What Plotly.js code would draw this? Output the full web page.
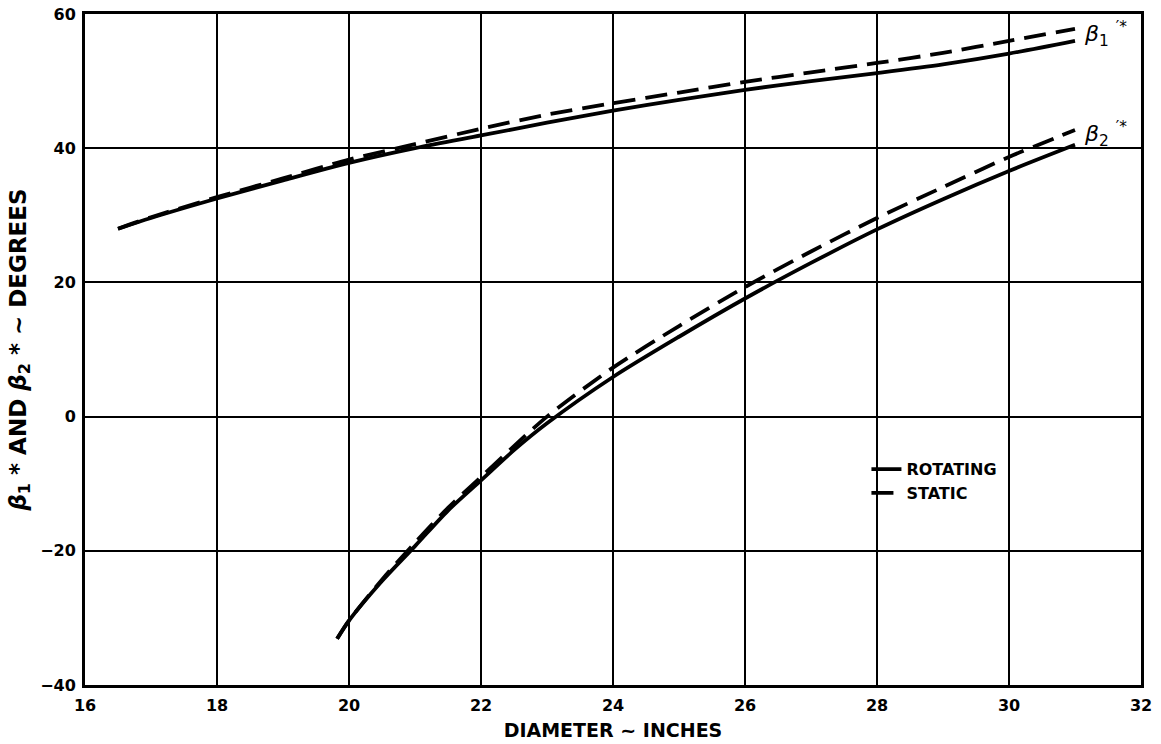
<!DOCTYPE html>
<html>
<head>
<meta charset="utf-8">
<script src="https://cdn.plot.ly/plotly-3.0.1.min.js"></script>
<style>html,body{margin:0;padding:0;background:#fff;}#chart{width:1161px;height:744px;}</style>
</head>
<body>
<div id="chart"></div>
<script>
// Upper curves (beta1*)
var beta1X = [16.5, 17, 18, 19, 20, 21, 22, 23, 24, 25, 26, 27, 28, 29, 30, 31];
var beta1Rotating = [28, 29.6, 32.5, 35.2, 37.8, 40.0, 41.9, 43.8, 45.6, 47.2, 48.7, 50.0, 51.2, 52.5, 54.1, 56.0];
var beta1Static   = [28, 29.7, 32.7, 35.5, 38.3, 40.6, 42.9, 45.0, 46.7, 48.3, 49.9, 51.3, 52.7, 54.2, 56.0, 57.8];
// Lower curves (beta2*)
var beta2X = [19.82, 20, 20.5, 21, 21.5, 22, 22.5, 23, 24, 25, 26, 27, 28, 29, 30, 31];
var beta2Rotating = [-33.1, -30.4, -24.5, -19.3, -14.0, -9.5, -5.0, -1.0, 5.9, 11.9, 17.6, 22.9, 27.9, 32.4, 36.6, 40.5];
var beta2Static   = [-33.1, -30.4, -24.3, -18.8, -13.6, -9.0, -4.4, 0.0, 7.3, 13.5, 19.3, 24.6, 29.6, 34.2, 38.7, 42.7];

var xTicks = [16, 18, 20, 22, 24, 26, 28, 30, 32];
var yTicks = [-40, -20, 0, 20, 40, 60];
var yTickText = ['\u221240', '\u221220', '0', '20', '40', '60'];

var curveLabels = [
  {x: 31.1, y: 57.0, text: '<i>\u03b2</i><sub>1</sub> <sup>\u2032*</sup>'},
  {x: 31.1, y: 42.1, text: '<i>\u03b2</i><sub>2</sub> <sup>\u2032*</sup>'}
];

var solid = {color: '#000', width: 3.8, shape: 'spline', smoothing: 0.8};
var dashed = {color: '#000', width: 3.8, dash: '22px,10px', shape: 'spline', smoothing: 0.8};

var traces = [
  {x: beta1X, y: beta1Rotating, mode: 'lines', name: 'ROTATING', line: solid, legendgroup: 'r'},
  {x: beta1X, y: beta1Static, mode: 'lines', name: 'STATIC', line: dashed, legendgroup: 's'},
  {x: beta2X, y: beta2Rotating, mode: 'lines', name: 'ROTATING', line: solid, legendgroup: 'r', showlegend: false},
  {x: beta2X, y: beta2Static, mode: 'lines', name: 'STATIC', line: dashed, legendgroup: 's', showlegend: false}
];

var fontFam = 'DejaVu Sans, Arial, sans-serif';

var layout = {
  width: 1161, height: 744,
  margin: {l: 85, r: 20, t: 14, b: 59},
  paper_bgcolor: '#fff', plot_bgcolor: '#fff',
  showlegend: true,
  legend: {x: 0.74, y: 0.347, xanchor: 'left', yanchor: 'top', bgcolor: 'rgba(0,0,0,0)',
           font: {family: fontFam, size: 16, color: '#000', weight: 'bold'}, tracegroupgap: 0},
  xaxis: {
    range: [16, 32], tickvals: xTicks, ticktext: xTicks.map(String),
    showgrid: true, gridcolor: '#000', gridwidth: 2,
    zeroline: false, showline: true, linecolor: '#000', linewidth: 3, mirror: true,
    ticks: '', ticklabelstandoff: 4,
    tickfont: {family: fontFam, size: 16, color: '#000', weight: 'bold'},
    title: {text: 'DIAMETER ~ INCHES', standoff: 10,
            font: {family: fontFam, size: 19, color: '#000', weight: 'bold'}}
  },
  yaxis: {
    range: [-40, 60], tickvals: yTicks, ticktext: yTickText,
    showgrid: true, gridcolor: '#000', gridwidth: 2,
    zeroline: false, showline: true, linecolor: '#000', linewidth: 3, mirror: true,
    ticks: '', ticklabelstandoff: 3,
    tickfont: {family: fontFam, size: 16, color: '#000', weight: 'bold'},
    title: {text: '<i>\u03b2</i><sub>1</sub> * AND <i>\u03b2</i><sub>2</sub> * ~ DEGREES', standoff: 8,
            font: {family: fontFam, size: 23, color: '#000', weight: 'bold'}}
  },
  annotations: curveLabels.map(function (c) {
    return {x: c.x, y: c.y, xref: 'x', yref: 'y', text: c.text, showarrow: false,
            xanchor: 'left', yanchor: 'middle',
            font: {family: fontFam, size: 22, color: '#000'}};
  })
};

Plotly.newPlot('chart', traces, layout, {displayModeBar: false, staticPlot: true});
</script>
</body>
</html>
